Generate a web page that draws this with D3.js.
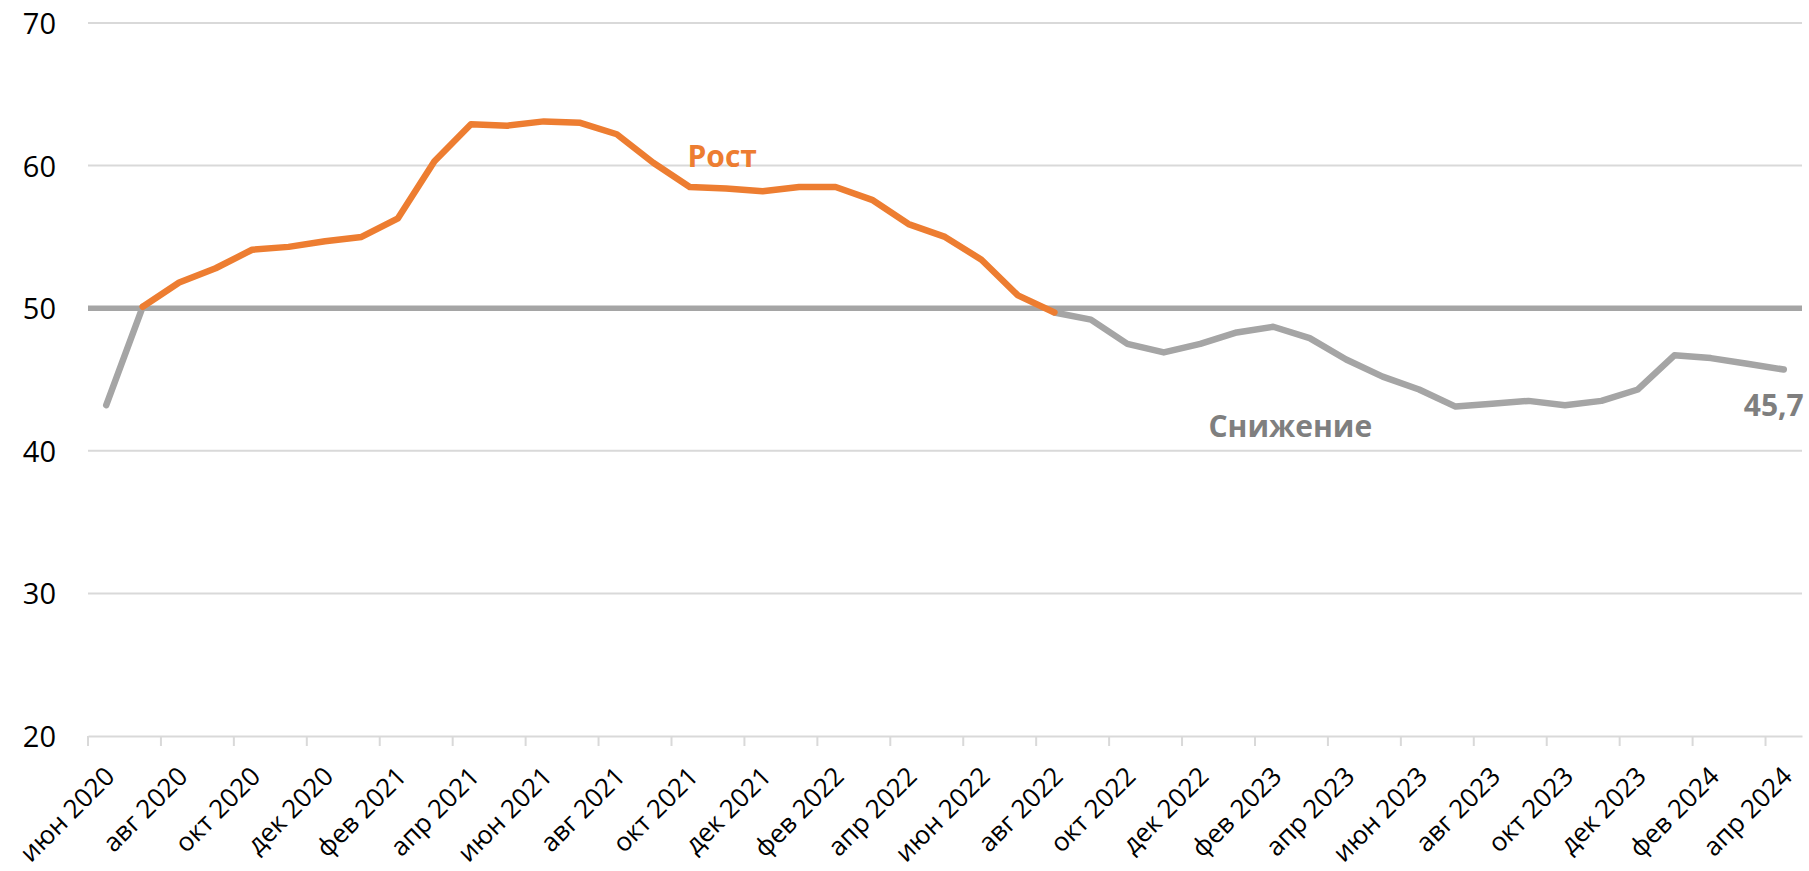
<!DOCTYPE html>
<html>
<head>
<meta charset="utf-8">
<script src="https://cdn.jsdelivr.net/npm/d3@7"></script>
<style>
  body { margin: 0; background: #fff; }
  text { font-family: "Segoe UI", "Open Sans", sans-serif; }
</style>
</head>
<body>
<div id="area"></div>
<script>
var months = [
  "июн 2020", "июл 2020", "авг 2020", "сен 2020", "окт 2020", "ноя 2020", "дек 2020",
  "янв 2021", "фев 2021", "мар 2021", "апр 2021", "май 2021", "июн 2021", "июл 2021",
  "авг 2021", "сен 2021", "окт 2021", "ноя 2021", "дек 2021",
  "янв 2022", "фев 2022", "мар 2022", "апр 2022", "май 2022", "июн 2022", "июл 2022",
  "авг 2022", "сен 2022", "окт 2022", "ноя 2022", "дек 2022",
  "янв 2023", "фев 2023", "мар 2023", "апр 2023", "май 2023", "июн 2023", "июл 2023",
  "авг 2023", "сен 2023", "окт 2023", "ноя 2023", "дек 2023",
  "янв 2024", "фев 2024", "мар 2024", "апр 2024"
];

// рост (>50)
var rost = [
  null, 50.1, 51.8, 52.8, 54.1, 54.3, 54.7,
  55.0, 56.3, 60.3, 62.9, 62.8, 63.1, 63.0,
  62.2, 60.2, 58.5, 58.4, 58.2,
  58.5, 58.5, 57.6, 55.9, 55.0, 53.4, 50.9,
  49.7, null, null, null, null,
  null, null, null, null, null, null, null,
  null, null, null, null, null,
  null, null, null, null
];

// снижение (<50)
var snizhenie = [
  43.2, 50.1, null, null, null, null, null,
  null, null, null, null, null, null, null,
  null, null, null, null, null,
  null, null, null, null, null, null, null,
  49.7, 49.2, 47.5, 46.9, 47.5,
  48.3, 48.7, 47.9, 46.4, 45.2, 44.3, 43.1,
  43.3, 43.5, 43.2, 43.5, 44.3,
  46.7, 46.5, 46.1, 45.7
];

var yTicks = [20, 30, 40, 50, 60, 70];
var threshold = 50;
var lastLabel = "45,7";

var width = 1809, height = 871;
var margin_top = 23, margin_bottom = 135, margin_left = 88, margin_right = 7;
var w = width - margin_left - margin_right;
var h = height - margin_top - margin_bottom;

var svg = d3.select("#area")
.append("svg")
  .attr("width", width)
  .attr("height", height)
.append("g")
  .attr("transform", "translate(" + margin_left + "," + margin_top + ")");

var x = d3.scaleBand()
  .domain(months)
  .range([0, w])
  .padding(0);
var bw = x.bandwidth();

var y = d3.scaleLinear()
  .domain([20, 70])
  .range([h, 0]);

// сетка
svg.append("g")
  .selectAll("line")
  .data(yTicks.filter(function(d) { return d != 20 && d != threshold; }))
  .enter()
  .append("line")
    .attr("x1", 0)
    .attr("x2", w)
    .attr("y1", function(d) { return y(d); })
    .attr("y2", function(d) { return y(d); })
    .style("stroke", "#d9d9d9")
    .style("stroke-width", 2);

// ось Y
var yAxis = svg.append("g")
  .call(d3.axisLeft(y).tickValues(yTicks).tickSize(0).tickPadding(32));
yAxis.select(".domain").remove();
yAxis.selectAll("text")
  .style("font-size", "29px")
  .style("fill", "#000")
  .attr("dy", "0.36em");

// ось X
var evenMonths = months.filter(function(d, i) { return i % 2 == 0; });
var xAxis = svg.append("g")
  .attr("transform", "translate(0," + h + ")")
  .call(d3.axisBottom(x).tickValues(evenMonths).tickSize(10).tickSizeOuter(0));
xAxis.select(".domain")
  .style("stroke", "#d9d9d9")
  .style("stroke-width", 2);
xAxis.selectAll(".tick line")
  .attr("x1", -bw / 2)
  .attr("x2", -bw / 2)
  .style("stroke", "#d9d9d9")
  .style("stroke-width", 2);
xAxis.selectAll(".tick text")
  .attr("y", 0)
  .attr("dy", 0)
  .attr("transform", "translate(10,42) rotate(-45)")
  .style("text-anchor", "end")
  .style("font-size", "26px")
  .style("fill", "#000");

// линия 50
svg.append("line")
  .attr("x1", 0)
  .attr("x2", w)
  .attr("y1", y(threshold))
  .attr("y2", y(threshold))
  .style("stroke", "#a5a5a5")
  .style("stroke-width", 5.5);

var line = d3.line()
  .defined(function(d) { return d != null; })
  .x(function(d, i) { return x(months[i]) + bw / 2; })
  .y(function(d) { return y(d); });

svg.append("path")
  .datum(snizhenie)
  .attr("d", line)
  .style("fill", "none")
  .style("stroke", "#a5a5a5")
  .style("stroke-width", 6.5)
  .style("stroke-linejoin", "round")
  .style("stroke-linecap", "round");

svg.append("path")
  .datum(rost)
  .attr("d", line)
  .style("fill", "none")
  .style("stroke", "#ed7d31")
  .style("stroke-width", 6.5)
  .style("stroke-linejoin", "round")
  .style("stroke-linecap", "round");

// подписи
svg.append("text")
  .attr("x", x(months[16]) + 16)
  .attr("y", y(59.9))
  .style("font-size", "30px")
  .style("font-weight", "bold")
  .style("fill", "#ed7d31")
  .text("Рост");

svg.append("text")
  .attr("x", x(months[31]) - 10)
  .attr("y", y(41.0))
  .style("font-size", "30px")
  .style("font-weight", "bold")
  .style("fill", "#7f7f7f")
  .text("Снижение");

var last = months.length - 1;
svg.append("text")
  .attr("x", x(months[last]) + bw / 2 + 20)
  .attr("y", y(snizhenie[last]) + 46)
  .style("font-size", "30px")
  .style("font-weight", "bold")
  .style("fill", "#7f7f7f")
  .style("text-anchor", "end")
  .text(lastLabel);
</script>
</body>
</html>
